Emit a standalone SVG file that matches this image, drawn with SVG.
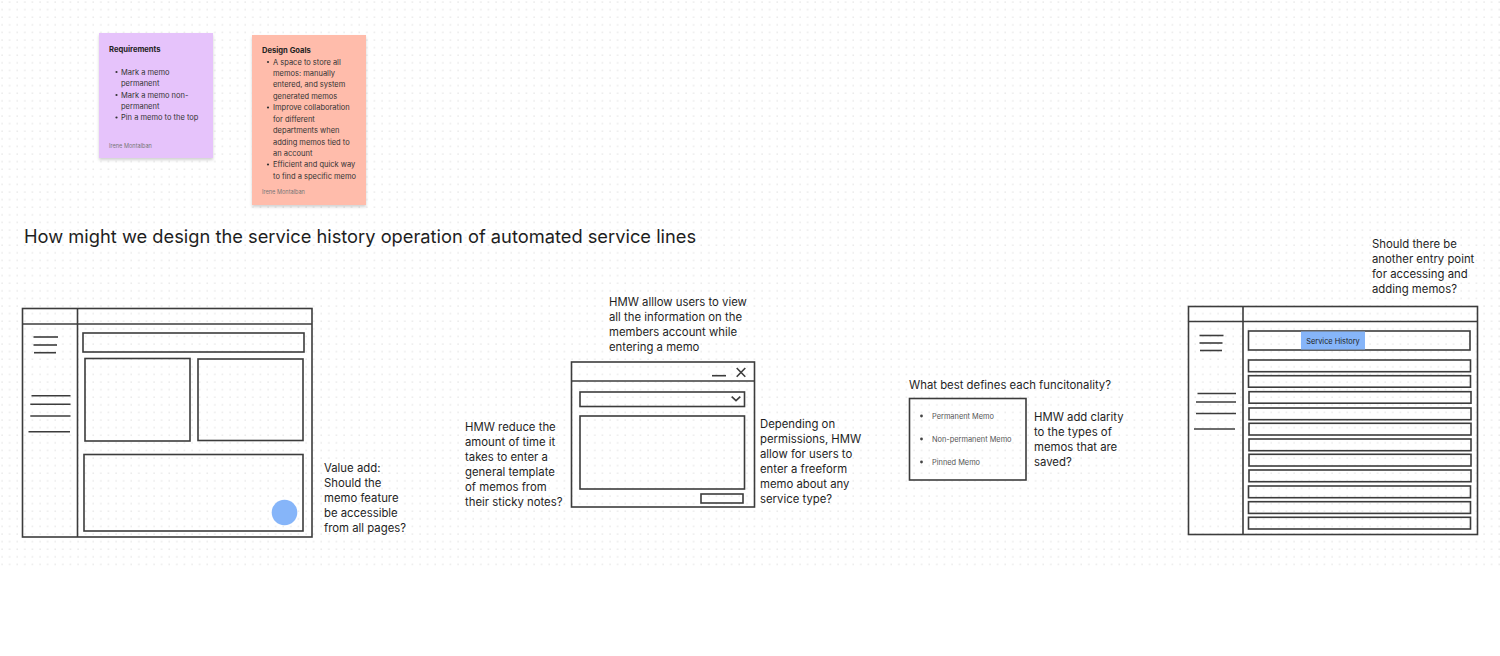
<svg xmlns="http://www.w3.org/2000/svg" width="1500" height="656" viewBox="0 0 1500 656">
<defs>
<pattern id="dots" x="0" y="0" width="7.6" height="7.6" patternUnits="userSpaceOnUse">
<rect x="1.4" y="1.4" width="1.3" height="1.3" fill="#e2e2e2"/>
</pattern>
<filter id="shadow" x="-10%" y="-10%" width="130%" height="130%">
<feDropShadow dx="0" dy="2" stdDeviation="1.5" flood-color="#000" flood-opacity="0.18"/>
</filter>
</defs>
<style>
text{font-family:Inter,"Liberation Sans",Arial,sans-serif;fill:#1e1e1e}
.note{font-size:7.5px;fill:#333}
.nt{font-size:7.6px;font-weight:bold;fill:#222}
.auth{font-size:5.6px;fill:#777}
.q{font-size:11.35px;fill:#1e1e1e}
.wf{fill:none;stroke:#3c3c3c;stroke-width:1.6}
.ln{stroke:#3c3c3c;stroke-width:1.6;fill:none}
.sm{font-size:7.4px;fill:#555}
</style>
<rect width="1500" height="656" fill="#ffffff"/>
<rect x="0" y="0" width="1500" height="566" fill="url(#dots)"/>

<g id="sticky-requirements">
<rect x="99" y="33" width="114" height="125" fill="#e6c3fb" filter="url(#shadow)"/>
<text class="nt" x="109" y="52">Requirements</text>
<circle cx="116.5" cy="72" r="1.1" fill="#333"/>
<text class="note" x="121" y="74.5">Mark a memo</text>
<text class="note" x="121" y="86">permanent</text>
<circle cx="116.5" cy="95" r="1.1" fill="#333"/>
<text class="note" x="121" y="97.5">Mark a memo non-</text>
<text class="note" x="121" y="108.5">permanent</text>
<circle cx="116.5" cy="117.5" r="1.1" fill="#333"/>
<text class="note" x="121" y="120">Pin a memo to the top</text>
<text class="auth" x="109" y="147.5">Irene Montalban</text>
</g>

<g id="sticky-design-goals">
<rect x="252" y="35" width="114" height="170" fill="#ffbcab" filter="url(#shadow)"/>
<text class="nt" x="262" y="53">Design Goals</text>
<circle cx="268" cy="62" r="1.1" fill="#333"/>
<text class="note" x="273" y="64.5">A space to store all</text>
<text class="note" x="273" y="76">memos:  manually</text>
<text class="note" x="273" y="87">entered, and system</text>
<text class="note" x="273" y="99">generated memos</text>
<circle cx="268" cy="107.5" r="1.1" fill="#333"/>
<text class="note" x="273" y="110">Improve collaboration</text>
<text class="note" x="273" y="121.5">for different</text>
<text class="note" x="273" y="133">departments when</text>
<text class="note" x="273" y="144.5">adding memos tied to</text>
<text class="note" x="273" y="156">an account</text>
<circle cx="268" cy="164.5" r="1.1" fill="#333"/>
<text class="note" x="273" y="167">Efficient and quick way</text>
<text class="note" x="273" y="178.5">to find a specific memo</text>
<text class="auth" x="262" y="194">Irene Montalban</text>
</g>

<g id="title">
<text x="24" y="243" font-size="18.3" fill="#222">How might we design the service history operation of automated service lines</text>
</g>

<g id="wireframe-dashboard">
<rect class="wf" x="22.5" y="308.5" width="289.5" height="228.5"/>
<line class="ln" x1="22.5" y1="324" x2="312" y2="324"/>
<line class="ln" x1="77.5" y1="308.5" x2="77.5" y2="537"/>
<line class="ln" x1="33.5" y1="337" x2="58" y2="337"/>
<line class="ln" x1="33.5" y1="345" x2="57" y2="345"/>
<line class="ln" x1="34" y1="352.7" x2="56" y2="352.7"/>
<line class="ln" x1="31.5" y1="395.7" x2="70.5" y2="395.7"/>
<line class="ln" x1="30.3" y1="404.3" x2="70.5" y2="404.3"/>
<line class="ln" x1="30.3" y1="416" x2="70.5" y2="416"/>
<line class="ln" x1="28.5" y1="431.7" x2="70" y2="431.7"/>
<rect class="wf" x="83" y="333" width="221" height="19"/>
<rect class="wf" x="85" y="358.5" width="105" height="82.5"/>
<rect class="wf" x="198" y="359" width="105" height="81.5"/>
<rect class="wf" x="84" y="454.5" width="219" height="76.5"/>
<circle cx="284.5" cy="512.5" r="12.8" fill="#86b5f9"/>
</g>
<g id="note-value-add">
<text class="q" x="324" y="472">Value add:</text>
<text class="q" x="324" y="487">Should the</text>
<text class="q" x="324" y="502">memo feature</text>
<text class="q" x="324" y="517">be accessible</text>
<text class="q" x="324" y="532">from all pages?</text>
</g>

<g id="note-view-info">
<text class="q" x="609" y="306">HMW alllow users to view</text>
<text class="q" x="609" y="321">all the information on the</text>
<text class="q" x="609" y="336">members account while</text>
<text class="q" x="609" y="351">entering a memo</text>
</g>

<g id="wireframe-memo-dialog">
<rect class="wf" x="571.5" y="362" width="183" height="145"/>
<line class="ln" x1="571.5" y1="381" x2="754.5" y2="381"/>
<line class="ln" x1="712" y1="375.7" x2="726" y2="375.7"/>
<path class="ln" d="M736.7 368 L745.3 376.7 M745.3 368 L736.7 376.7"/>
<rect class="wf" x="580" y="392" width="164.5" height="14.5"/>
<path class="ln" d="M731.7 396.7 L736 400.7 L740.3 396.7"/>
<rect class="wf" x="580" y="416" width="164.5" height="73"/>
<rect class="wf" x="701" y="494" width="42" height="9"/>
</g>

<g id="note-reduce-time">
<text class="q" x="465" y="431">HMW reduce the</text>
<text class="q" x="465" y="446">amount of time it</text>
<text class="q" x="465" y="461">takes to enter a</text>
<text class="q" x="465" y="476">general template</text>
<text class="q" x="465" y="491">of memos from</text>
<text class="q" x="465" y="506">their sticky notes?</text>
</g>

<g id="note-permissions">
<text class="q" x="760" y="428">Depending on</text>
<text class="q" x="760" y="443">permissions, HMW</text>
<text class="q" x="760" y="458">allow for users to</text>
<text class="q" x="760" y="473">enter a freeform</text>
<text class="q" x="760" y="488">memo about any</text>
<text class="q" x="760" y="503">service type?</text>
</g>

<g id="memo-types">
<text class="q" x="909" y="389">What best defines each funcitonality?</text>
<rect class="wf" x="909.5" y="398.5" width="116.5" height="81.5"/>
<circle cx="921.5" cy="416" r="1.4" fill="#444"/>
<text class="sm" x="932" y="418.5">Permanent Memo</text>
<circle cx="921.5" cy="439" r="1.4" fill="#444"/>
<text class="sm" x="932" y="441.5">Non-permanent Memo</text>
<circle cx="921.5" cy="462" r="1.4" fill="#444"/>
<text class="sm" x="932" y="464.5">Pinned Memo</text>
</g>

<g id="note-clarity">
<text class="q" x="1034" y="421">HMW add clarity</text>
<text class="q" x="1034" y="436">to the types of</text>
<text class="q" x="1034" y="451">memos that are</text>
<text class="q" x="1034" y="466">saved?</text>
</g>

<g id="note-entry-point">
<text class="q" x="1372" y="248">Should there be</text>
<text class="q" x="1372" y="263">another entry point</text>
<text class="q" x="1372" y="278">for accessing and</text>
<text class="q" x="1372" y="293">adding memos?</text>
</g>

<g id="wireframe-service-history">
<rect class="wf" x="1188.5" y="306.5" width="289" height="228"/>
<line class="ln" x1="1188.5" y1="321.5" x2="1477.5" y2="321.5"/>
<line class="ln" x1="1243" y1="306.5" x2="1243" y2="534.5"/>
<line class="ln" x1="1199.5" y1="335.5" x2="1223.5" y2="335.5"/>
<line class="ln" x1="1199.5" y1="343" x2="1222.5" y2="343"/>
<line class="ln" x1="1200" y1="350.5" x2="1222" y2="350.5"/>
<line class="ln" x1="1197.5" y1="393.5" x2="1236" y2="393.5"/>
<line class="ln" x1="1196" y1="402" x2="1236" y2="402"/>
<line class="ln" x1="1196" y1="413.5" x2="1236" y2="413.5"/>
<line class="ln" x1="1194" y1="429" x2="1235" y2="429"/>
<rect class="wf" x="1248.5" y="331" width="221.5" height="19"/>
<rect x="1301" y="331.5" width="64" height="18" fill="#86b5f9"/>
<text x="1333" y="343.5" font-size="7.4" text-anchor="middle" fill="#2d3b55">Service History</text>
<rect class="wf" x="1248.5" y="360" width="222" height="11.7"/>
<rect class="wf" x="1248.5" y="375.7" width="222" height="11.5"/>
<rect class="wf" x="1249" y="391.7" width="222" height="11.5"/>
<rect class="wf" x="1249" y="408" width="222" height="11.7"/>
<rect class="wf" x="1249" y="423.3" width="222" height="11.7"/>
<rect class="wf" x="1249" y="439" width="222" height="11.7"/>
<rect class="wf" x="1249" y="454.3" width="222" height="11.7"/>
<rect class="wf" x="1249" y="470" width="222" height="11.7"/>
<rect class="wf" x="1248.5" y="486" width="222" height="11.7"/>
<rect class="wf" x="1248.5" y="501.7" width="222" height="11.7"/>
<rect class="wf" x="1248.5" y="517.3" width="222" height="11.7"/>
</g>

<g id="connectors"></g>
</svg>
